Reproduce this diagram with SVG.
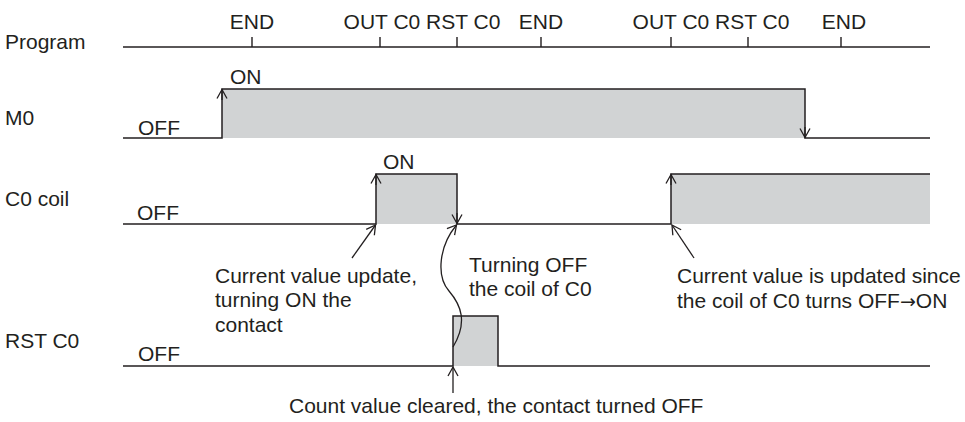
<svg xmlns="http://www.w3.org/2000/svg" width="965" height="422" viewBox="0 0 965 422">
<defs>
<style>
text{font-family:"Liberation Sans",Arial,sans-serif;font-size:21px;fill:#231f20}
.arw{font-family:"DejaVu Sans","Liberation Sans",sans-serif;font-size:19px}
.ln{fill:none;stroke:#231f20;stroke-width:1.4}
.sig{fill:none;stroke:#231f20;stroke-width:1.5}
.fill{fill:#d1d3d4;stroke:none}
.ar{fill:none;stroke:#231f20;stroke-width:1.3;marker-end:url(#ah)}
</style>
<marker id="ah" viewBox="-10 -6 12 12" markerWidth="12" markerHeight="12" refX="0" refY="0" orient="auto" markerUnits="userSpaceOnUse">
<path d="M-9,-5 L0,0 L-9,5" fill="none" stroke="#231f20" stroke-width="1.3"/>
</marker>
</defs>
<rect width="965" height="422" fill="#ffffff"/>

<g id="program">
<text x="5" y="49">Program</text>
<line class="ln" x1="123" y1="47" x2="930" y2="47"/>
<path class="ln" d="M252,37V47M380,37V47M457,37V47M541,37V47M671,37V47M748,37V47M841,37V47"/>
<text x="252" y="29" text-anchor="middle">END</text>
<text x="422" y="29" text-anchor="middle">OUT C0 RST C0</text>
<text x="541" y="29" text-anchor="middle">END</text>
<text x="711" y="29" text-anchor="middle">OUT C0 RST C0</text>
<text x="844" y="29" text-anchor="middle">END</text>
</g>

<g id="m0">
<text x="5" y="125">M0</text>
<rect class="fill" x="222" y="89" width="583" height="49"/>
<path class="sig" d="M123,138H222V89H805V138H930"/>
<text x="138" y="135">OFF</text>
<text x="230" y="84">ON</text>
<path class="ar" d="M222,100V89.5"/>
<path class="ar" d="M805,127V137.5"/>
</g>

<g id="c0coil">
<text x="5" y="206">C0 coil</text>
<rect class="fill" x="376" y="174" width="81" height="50"/>
<rect class="fill" x="671" y="174" width="259" height="50"/>
<path class="sig" d="M123,224H376V174H457V224H671V174H930"/>
<text x="137" y="220">OFF</text>
<text x="383" y="169">ON</text>
<path class="ar" d="M376,185V174.5"/>
<path class="ar" d="M457,213V223.5"/>
<path class="ar" d="M671,185V174.5"/>
</g>

<g id="rstc0">
<text x="5" y="348">RST C0</text>
<rect class="fill" x="453" y="316" width="45" height="50"/>
<path class="sig" d="M123,366H453V316H498V366H930"/>
<text x="138" y="361">OFF</text>
</g>

<g id="connectors">
<path class="ar" d="M352,258L375.5,225"/>
<path class="ar" d="M694,258L672,225"/>
<path class="ar" d="M453,347C468,322 461,305 449,291C436,276 439,246 456.5,225"/>
<path class="ar" d="M453,393V367"/>
</g>

<g id="notes">
<text x="215" y="283">Current value update,</text>
<text x="215" y="307">turning ON the</text>
<text x="215" y="332">contact</text>
<text x="469" y="272">Turning OFF</text>
<text x="469" y="296">the coil of C0</text>
<text x="677" y="283">Current value is updated since</text>
<text x="677" y="308">the coil of C0 turns OFF<tspan class="arw">→</tspan>ON</text>
<text x="289" y="413">Count value cleared, the contact turned OFF</text>
</g>
</svg>
